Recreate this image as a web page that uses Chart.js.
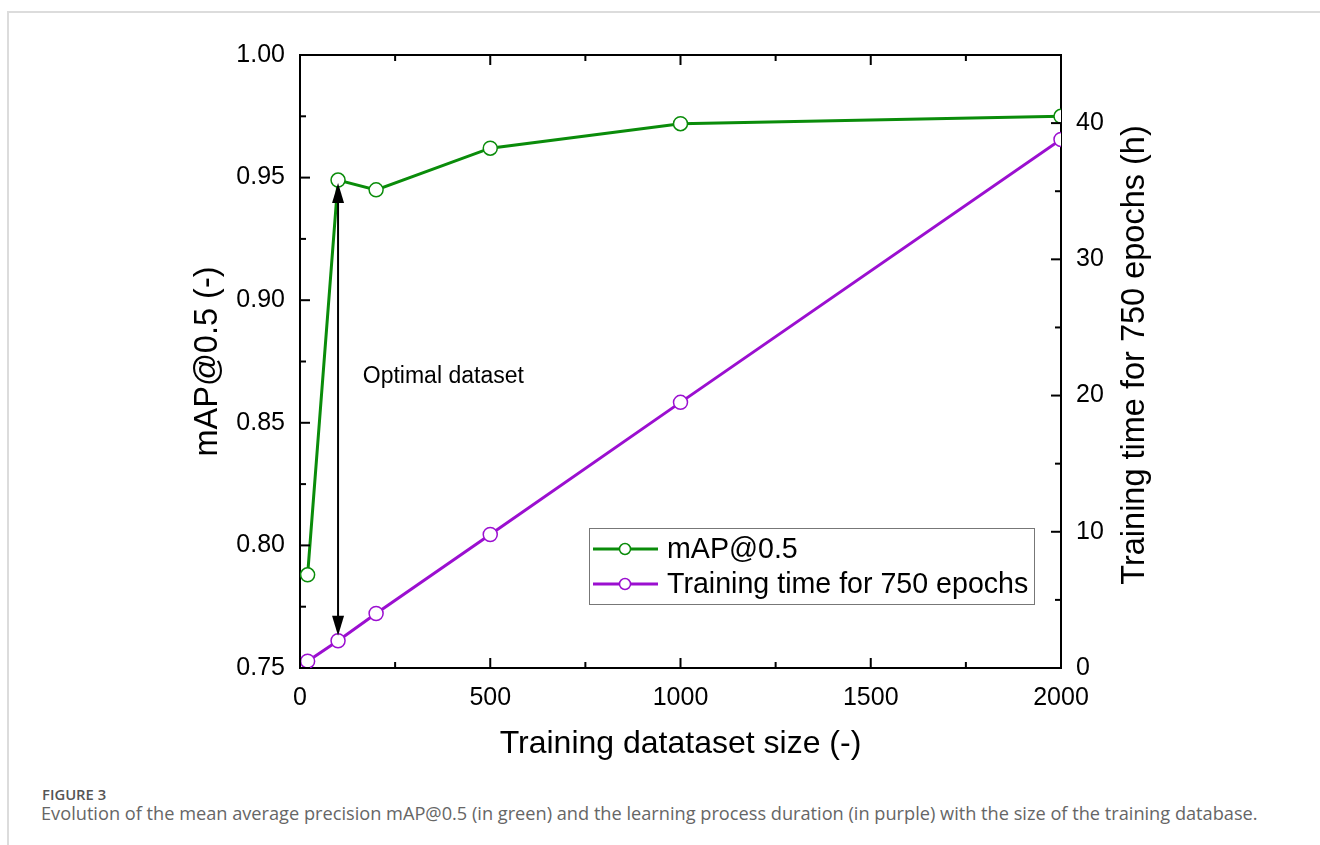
<!DOCTYPE html>
<html>
<head>
<meta charset="utf-8">
<script src="https://cdn.jsdelivr.net/npm/chart.js"></script>
<style>
  html, body { margin: 0; padding: 0; background: #fff; }
  body { width: 1320px; height: 845px; position: relative; overflow: hidden; }
  .card { position: absolute; left: 7px; top: 11px; width: 1400px; height: 900px;
          border-top: 2px solid #dcdcdc; border-left: 2px solid #dcdcdc; }
  .chart-box { position: absolute; left: 0; top: 0; width: 1320px; height: 770px; }
  .fig-label { position: absolute; left: 42px; top: 784px; font-family: 'Open Sans', sans-serif;
               font-size: 14.8px; font-weight: 600; color: #555; }
  .fig-caption { position: absolute; left: 41px; top: 801px; font-family: 'Open Sans', sans-serif;
                 font-size: 18.2px; color: #666; white-space: nowrap; }
</style>
</head>
<body>
<div class="card"></div>
<div class="chart-box"><canvas id="mapChart"></canvas></div>
<div class="fig-label">FIGURE 3</div>
<div class="fig-caption">Evolution of the mean average precision mAP@0.5 (in green) and the learning process duration (in purple) with the size of the training database.</div>

<script>
// ---- data ----
const datasetSizes = [20, 100, 200, 500, 1000, 2000];
const mapValues = [0.788, 0.949, 0.945, 0.962, 0.972, 0.975];
const trainingHours = [0.5, 2.0, 4.0, 9.8, 19.5, 38.8];

// ---- tick labels ----
const xTicks = [0, 500, 1000, 1500, 2000];
const xMinorTicks = [250, 750, 1250, 1750];
const leftTicks = [0.75, 0.80, 0.85, 0.90, 0.95, 1.00];
const leftMinorTicks = [0.775, 0.825, 0.875, 0.925, 0.975];
const rightTicks = [0, 10, 20, 30, 40];
const rightMinorTicks = [5, 15, 25, 35];

const GREEN = '#0a8c0a';
const PURPLE = '#9b0fd0';
const FONT = "'Liberation Sans', Arial, sans-serif";

// Origin-style inward ticks on all four sides, plus the arrow / note / legend
const figureExtras = {
    id: 'figureExtras',
    afterDatasetsDraw(chart) {
        const { ctx, chartArea: a, scales } = chart;
        const x = scales.x, y = scales.y, y2 = scales.y2;
        ctx.save();

        // top frame line
        ctx.strokeStyle = '#000';
        ctx.lineWidth = 2;
        ctx.beginPath();
        ctx.moveTo(a.left - 1, a.top);
        ctx.lineTo(a.right + 1, a.top);
        ctx.stroke();

        function tickX(vals, len) {
            vals.forEach(v => {
                const px = x.getPixelForValue(v);
                ctx.beginPath();
                ctx.moveTo(px, a.bottom); ctx.lineTo(px, a.bottom - len);
                ctx.moveTo(px, a.top); ctx.lineTo(px, a.top + len);
                ctx.stroke();
            });
        }
        function tickY(scale, vals, len, side) {
            vals.forEach(v => {
                const py = scale.getPixelForValue(v);
                ctx.beginPath();
                if (side === 'left') { ctx.moveTo(a.left, py); ctx.lineTo(a.left + len, py); }
                else { ctx.moveTo(a.right, py); ctx.lineTo(a.right - len, py); }
                ctx.stroke();
            });
        }
        tickX(xTicks, 10);
        tickX(xMinorTicks, 6);
        tickY(y, leftTicks, 10, 'left');
        tickY(y, leftMinorTicks, 6, 'left');
        tickY(y2, rightTicks, 10, 'right');
        tickY(y2, rightMinorTicks, 6, 'right');

        // double arrow at the optimal dataset size
        const ax = x.getPixelForValue(datasetSizes[1]);
        const topTip = y.getPixelForValue(mapValues[1]) + 3;
        const botTip = y2.getPixelForValue(trainingHours[1]) - 5;
        ctx.fillStyle = '#000';
        ctx.lineWidth = 2;
        ctx.beginPath();
        ctx.moveTo(ax, topTip + 18);
        ctx.lineTo(ax, botTip - 18);
        ctx.stroke();
        ctx.beginPath();
        ctx.moveTo(ax, topTip); ctx.lineTo(ax - 6, topTip + 20); ctx.lineTo(ax + 6, topTip + 20);
        ctx.closePath(); ctx.fill();
        ctx.beginPath();
        ctx.moveTo(ax, botTip); ctx.lineTo(ax - 6, botTip - 20); ctx.lineTo(ax + 6, botTip - 20);
        ctx.closePath(); ctx.fill();

        ctx.font = '23px ' + FONT;
        ctx.textAlign = 'left';
        ctx.textBaseline = 'middle';
        ctx.fillText('Optimal dataset', x.getPixelForValue(165), y.getPixelForValue(0.869));

        // legend box
        const lx = 589, ly = 528, lw = 445, lh = 76;
        ctx.fillStyle = '#fff';
        ctx.fillRect(lx, ly, lw, lh);
        ctx.strokeStyle = '#777';
        ctx.lineWidth = 1;
        ctx.strokeRect(lx + 0.5, ly + 0.5, lw, lh);
        const entries = [
            { label: 'mAP@0.5', color: GREEN, yy: ly + 21 },
            { label: 'Training time for 750 epochs', color: PURPLE, yy: ly + 56 }
        ];
        ctx.font = '28.6px ' + FONT;
        entries.forEach(e => {
            ctx.strokeStyle = e.color;
            ctx.lineWidth = 3;
            ctx.beginPath();
            ctx.moveTo(lx + 4, e.yy); ctx.lineTo(lx + 69, e.yy);
            ctx.stroke();
            ctx.beginPath();
            ctx.fillStyle = '#fff';
            ctx.lineWidth = 1.5;
            ctx.arc(lx + 36, e.yy, 5.5, 0, Math.PI * 2);
            ctx.fill(); ctx.stroke();
            ctx.fillStyle = '#000';
            ctx.fillText(e.label, lx + 78, e.yy + 1);
        });

        // right axis title reads bottom-to-top like the left one
        ctx.save();
        ctx.translate(1135, 355);
        ctx.rotate(-Math.PI / 2);
        ctx.font = '32.5px ' + FONT;
        ctx.textAlign = 'center';
        ctx.fillStyle = '#000';
        ctx.fillText('Training time for 750 epochs (h)', 0, 0);
        ctx.restore();

        ctx.restore();
    }
};

function initMapChart() {
    const ctx = document.getElementById('mapChart');
    if (!ctx) return;

    new Chart(ctx, {
        type: 'line',
        data: {
            datasets: [
                {
                    label: 'mAP@0.5',
                    data: datasetSizes.map((s, i) => ({ x: s, y: mapValues[i] })),
                    yAxisID: 'y',
                    borderColor: GREEN,
                    borderWidth: 3,
                    pointRadius: 7,
                    pointBorderWidth: 1.5,
                    pointBackgroundColor: '#fff',
                    pointBorderColor: GREEN,
                    tension: 0,
                    clip: 0
                },
                {
                    label: 'Training time for 750 epochs',
                    data: datasetSizes.map((s, i) => ({ x: s, y: trainingHours[i] })),
                    yAxisID: 'y2',
                    borderColor: PURPLE,
                    borderWidth: 3,
                    pointRadius: 7,
                    pointBorderWidth: 1.5,
                    pointBackgroundColor: '#fff',
                    pointBorderColor: PURPLE,
                    tension: 0,
                    clip: 0
                }
            ]
        },
        options: {
            responsive: true,
            maintainAspectRatio: false,
            animation: false,
            layout: { padding: { top: 55, left: 0, right: 0, bottom: 0 } },
            plugins: {
                legend: { display: false },
                tooltip: { enabled: false }
            },
            scales: {
                x: {
                    type: 'linear',
                    min: 0,
                    max: 2000,
                    afterBuildTicks: s => { s.ticks = xTicks.map(v => ({ value: v })); },
                    afterFit: s => { s.height = 102; },
                    grid: { display: false },
                    border: { display: true, color: '#000', width: 2 },
                    ticks: {
                        color: '#000',
                        padding: 7,
                        maxRotation: 0,
                        font: { family: FONT, size: 25 },
                        callback: v => String(v)
                    },
                    title: {
                        display: true,
                        text: 'Training datataset size (-)',
                        color: '#000',
                        font: { family: FONT, size: 32 },
                        padding: { top: 0, bottom: 7 }
                    }
                },
                y: {
                    position: 'left',
                    min: 0.75,
                    max: 1.0,
                    afterBuildTicks: s => { s.ticks = leftTicks.map(v => ({ value: v })); },
                    afterFit: s => { s.width = 300; },
                    grid: { display: false },
                    border: { display: true, color: '#000', width: 2 },
                    ticks: {
                        color: '#000',
                        padding: 7,
                        font: { family: FONT, size: 25 },
                        callback: v => v.toFixed(2)
                    },
                    title: {
                        display: true,
                        text: 'mAP@0.5 (-)',
                        color: '#000',
                        font: { family: FONT, size: 32.5 },
                        padding: { top: 189, bottom: 0 }
                    }
                },
                y2: {
                    position: 'right',
                    min: 0,
                    max: 45,
                    afterBuildTicks: s => { s.ticks = rightTicks.map(v => ({ value: v })); },
                    afterFit: s => { s.width = 259; },
                    grid: { display: false },
                    border: { display: true, color: '#000', width: 2 },
                    ticks: {
                        color: '#000',
                        padding: 7,
                        font: { family: FONT, size: 25 }
                    }
                }
            }
        },
        plugins: [figureExtras]
    });
}

initMapChart();
</script>
</body>
</html>
